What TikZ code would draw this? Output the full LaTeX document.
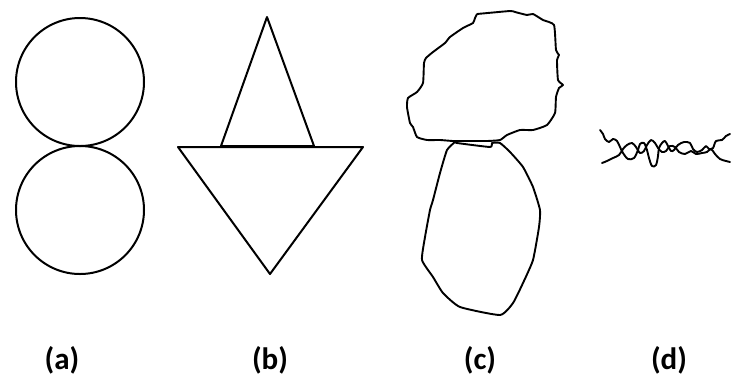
\documentclass[tikz,border=0pt]{standalone}
\usepackage{fontspec}
\setmainfont{Carlito}
\begin{document}
\begin{tikzpicture}[x=1pt,y=-1pt,
  shp/.style={draw=black,line width=2pt,line join=round},
  sq/.style={draw=black,line width=1.9pt,line cap=round,line join=round},
  lbl/.style={font=\fontsize{31}{33}\selectfont\bfseries,inner sep=0pt}]
\useasboundingbox (0,0) rectangle (739,376);
% (a)
\draw[shp] (80,82) circle[radius=64pt];
\draw[shp] (80,210) circle[radius=64pt];
% (b)
\draw[shp] (267,17) -- (314,146) -- (221,146) -- cycle;
\draw[shp] (178,147) -- (363,147) -- (270,274) -- cycle;
\draw[line width=2.8pt] (221,146.5) -- (314,146.5);
% (c)
\draw[shp,line width=1.9pt] plot[smooth,tension=0.3] coordinates {
(477,14) (510,11) (515,12) (527,15) (533,14) (543,20) (554,25) (556,50) (559,55) (557,60) (558,80) (563,85) (559,88) (556,97) (555,113) (547,125) (533,130) (520,130) (507,135) (500,140) (487,141) (467,141) (453,141) (440,140) (427,140) (417,137) (413,127) (410,123) (407,107) (408,98) (417,92) (423,83) (424,63) (426,58) (433,52) (445,43) (450,37) (463,28) (473,23) (475,18) (477,14)};
\draw[shp,line width=1.9pt] plot[smooth,tension=0.3] coordinates {
(455,142) (457,143) (490,147) (492,143) (500,143) (510,152) (523,167) (533,187) (540,210) (539,227) (533,260) (523,283) (513,303) (500,315) (460,307) (443,293) (433,277) (422,260) (425,237) (430,210) (433,200) (440,173) (447,150) (455,142)};
% (d)
\draw[sq] plot[smooth,tension=0.55] coordinates {
(600,130) (603,134) (605,139) (609,142) (613,139) (617,141) (620,147) (623,153) (628,159) (634,158) (638,150) (640,144) (644,143) (647,150) (649,158) (652,166) (656,165) (658,156) (659,148) (662,143) (665,141) (668,146) (671,151) (674,150) (678,145) (684,142) (690,143) (693,149) (697,152) (702,150) (706,146) (709,149) (713,148) (716,141) (722,140) (726,136) (730,134)};
\draw[sq] plot[smooth,tension=0.55] coordinates {
(602,163) (607,161) (613,158) (619,155) (623,149) (627,145) (632,143) (636,147) (640,153) (644,151) (647,145) (651,140) (655,143) (658,148) (662,152) (666,151) (670,146) (675,147) (679,152) (685,154) (691,151) (696,154) (702,153) (707,152) (711,149) (715,154) (720,159) (726,161) (730,162)};
% labels
\node[lbl] (la) at (62,360) {(a)};
\node[lbl] (lb) at (270,360) {(b)};
\node[lbl] (lc) at (480,360) {(c)};
\node[lbl] (ld) at (669,360) {(d)};
\end{tikzpicture}
\end{document}
